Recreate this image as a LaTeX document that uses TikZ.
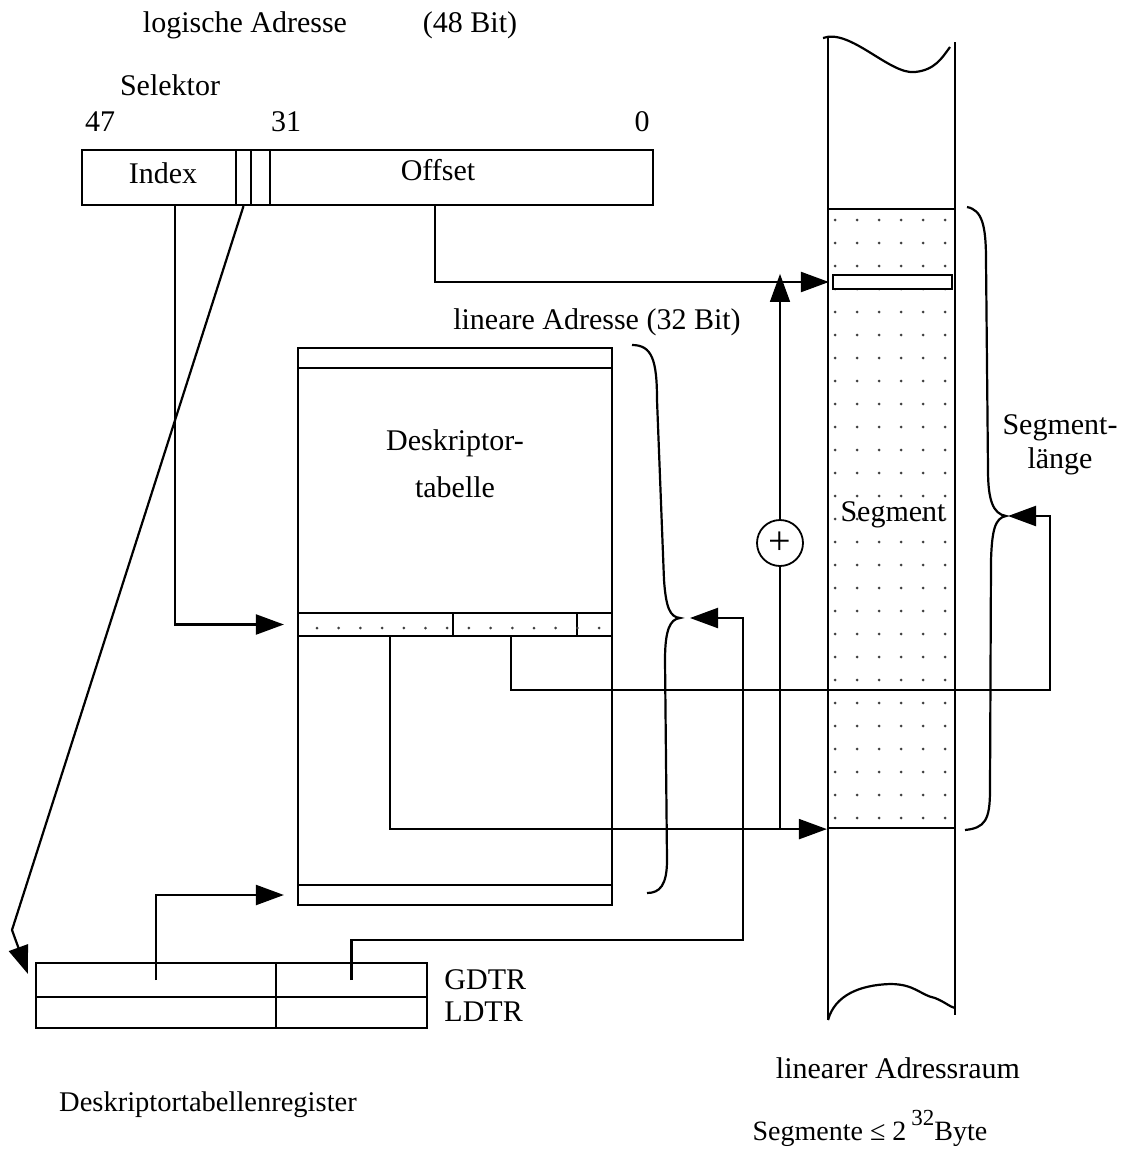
\documentclass[tikz,border=0pt]{standalone}
\usepackage{fontspec}
\setmainfont{Liberation Serif}
\usetikzlibrary{arrows.meta,positioning}

\begin{document}
\begin{tikzpicture}[x=1pt, y=-1pt, line width=2.2pt,
  every node/.style={font=\fontsize{30}{34}\selectfont},
  field/.style={draw, rectangle, inner sep=0pt},
  arr/.style={-{Triangle[length=28pt,width=20pt]}},
  dotmark/.style={fill=black!75}]
  \useasboundingbox (0,0) rectangle (1130,1151);

  % logische Adresse
  \node (logadr) at (245,25) {logische Adresse};
  \node (bits48) at (470,25) {(48 Bit)};
  \node (sel) at (170,85) {Selektor};
  \node (b47) at (100,122) {47};
  \node (b31) at (286,122) {31};
  \node (b0) at (642,122) {0};

  \node[field, minimum width=154pt, minimum height=55pt] (index) at (159,177.5) {};
  \node (idxtxt) at (163,173) {Index};
  \node[field, minimum width=15pt, minimum height=55pt] (ti) at (243.5,177.5) {};
  \node[field, minimum width=19pt, minimum height=55pt] (rpl) at (260.5,177.5) {};
  \node[field, minimum width=383pt, minimum height=55pt] (offset) at (461.5,177.5) {};
  \node (offtxt) at (438,170) {Offset};

  % Deskriptortabelle
  \node[field, minimum width=314pt, minimum height=557pt] (tbl) at (455,626.5) {};
  \node[field, minimum width=314pt, minimum height=20pt] (tblhead) at (455,358) {};
  \node[field, minimum width=314pt, minimum height=20pt] (tblend) at (455,895) {};
  \node[align=center, font=\fontsize{30}{47}\selectfont] (tbltxt) at (455,464) {Deskriptor-\\tabelle};
  \node (linadr) at (597,322) {lineare Adresse (32 Bit)};

  % Deskriptor
  \node[field, minimum width=155pt, minimum height=23pt] (entbase) at (375.5,624.5) {};
  \node[field, minimum width=124pt, minimum height=23pt] (entlim) at (515,624.5) {};
  \node[field, minimum width=35pt, minimum height=23pt] (entrest) at (594.5,624.5) {};
  \foreach \i in {0,...,13}
    \fill[dotmark] ({317+21.7*\i},628) circle[radius=1.5pt];

  \draw (632,345) .. controls (652,345) and (657,360) .. (657,400)
    -- (664,580) .. controls (666,608) and (670,617) .. (680,618)
    .. controls (670,619) and (665,630) .. (665,660)
    -- (667,860) .. controls (667,885) and (660,893) .. (647,893);
  \coordinate (tbltip) at (680,618);

  % linearer Adressraum
  \node[field, minimum width=127pt, minimum height=619pt] (seg) at (891.5,518.5) {};
  \foreach \i in {0,...,5}
    \foreach \j in {0,...,26}
      \fill[dotmark] ({835+22*\i},{220+23*\j}) circle[radius=1.5pt];
  \node[field, fill=white, minimum width=119pt, minimum height=14pt] (segentry) at (892.5,282) {};
  \node (segtxt) at (893,515) {Segment};
  \draw (828,38) -- (828,1020);
  \draw (955,42) -- (955,1015);
  \draw (823,38) .. controls (850,28) and (890,75) .. (915,72)
    .. controls (935,70) and (942,58) .. (950,47);
  \draw (828,1020) .. controls (835,995) and (860,985) .. (890,984)
    .. controls (915,984) and (920,995) .. (935,998)
    .. controls (945,1002) and (950,1007) .. (955,1008);

  \draw (967,207) .. controls (982,210) and (986,225) .. (986,260)
    -- (988,470) .. controls (988,500) and (993,514) .. (1006,516)
    .. controls (995,518) and (992,530) .. (991,560)
    -- (990,790) .. controls (990,820) and (985,828) .. (965,830);
  \coordinate (segtip) at (1006,516);
  \node[align=center, font=\fontsize{30}{34}\selectfont] (seglen) at (1060,445) {Segment-\\länge};

  % Addition
  \node[draw, circle, minimum size=46pt, inner sep=0pt, line width=1.8pt,
    font=\fontsize{40}{40}\selectfont] (plus) at (780,543) {+};

  % Deskriptortabellenregister
  \node[field, minimum width=240pt, minimum height=34pt] (gdtrbase) at (156,980) {};
  \node[field, minimum width=151pt, minimum height=34pt] (gdtrlim) at (351.5,980) {};
  \node[field, minimum width=240pt, minimum height=31pt] (ldtrbase) at (156,1012.5) {};
  \node[field, minimum width=151pt, minimum height=31pt] (ldtrlim) at (351.5,1012.5) {};
  \node[anchor=west] (gdtr) at (440,980) {GDTR};
  \node[anchor=west] (ldtr) at (440,1012) {LDTR};
  \node[font=\fontsize{28.5}{32}\selectfont] (dtreg) at (208,1105) {Deskriptortabellenregister};

  \node (linraum) at (898,1068) {linearer Adressraum};
  \node[font=\fontsize{28}{32}\selectfont] (seglimit) at (870,1128) {Segmente ≤ 2\hspace{5pt}\raisebox{15pt}{\fontsize{23}{23}\selectfont 32}Byte};

  % Pfeile
  \coordinate (kink) at (12,930);
  \coordinate (limturn) at (743,940);
  \coordinate (lencorner) at (1050,690);
  \draw[arr] ([xshift=16pt]index.south) |- ([xshift=-13pt]entbase.west);
  \draw[arr] ([xshift=-26.5pt]offset.south) |- ([xshift=-3pt]segentry.west);
  \draw[arr] (ti.south) -- (kink) -- ([shift={(-7pt,-12pt)}]gdtrbase.north west);
  \draw[arr] (gdtrbase.center) |- ([xshift=-13pt]tblend.west);
  \draw[arr] (gdtrlim.center) |- (limturn) |- ([xshift=10pt]tbltip);
  \draw[arr] ([xshift=14.5pt]entbase.south) |- (seg.south west);
  \draw[arr] ([xshift=-4pt]entlim.south) |- (lencorner) |- ([xshift=2pt]segtip);
  \draw[line width=1.4pt] (plus |- seg.south) -- (plus.south);
  \draw[arr, line width=1.4pt] (plus.north) -- (plus |- segentry.north);
\end{tikzpicture}
\end{document}
